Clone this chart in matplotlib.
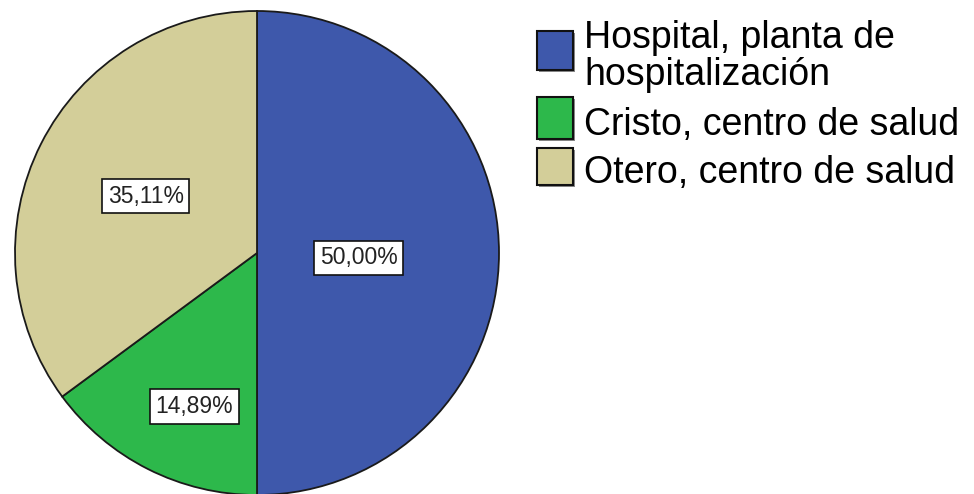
import matplotlib
matplotlib.use("Agg")
import matplotlib.pyplot as plt
from matplotlib.patches import Rectangle

# ---- data ----
categories = ["Hospital, planta de\nhospitalización",
              "Cristo, centro de salud",
              "Otero, centro de salud"]
percentages = [50.00, 14.89, 35.11]
colors = ["#3E58AB", "#2DB84B", "#D3CE99"]

# ---- layout constants ----
W, H = 974, 494
label_xy = [(0.42, -0.02), (-0.26, -0.635), (-0.46, 0.235)]  # label anchors in pie units

plt.rcParams['font.family'] = ['Liberation Sans', 'DejaVu Sans']
fig = plt.figure(figsize=(W / 100, H / 100), dpi=100)

cx, cy, r = 257, 253, 242  # pixel center (from top) and radius
ax = fig.add_axes([(cx - r) / W, (H - cy - r) / H, 2 * r / W, 2 * r / H])
wedges, _ = ax.pie(percentages, colors=colors, startangle=90, counterclock=False,
                   radius=1.0, wedgeprops=dict(edgecolor="#1a1a1a", linewidth=1.3))
ax.set_xlim(-1, 1)
ax.set_ylim(-1, 1)
ax.set_aspect('equal')
ax.axis('off')

for (x, y), v in zip(label_xy, percentages):
    ax.text(x, y, f"{v:.2f}%".replace('.', ','), ha='center', va='center',
            fontsize=16.5, color='#222222',
            bbox=dict(boxstyle='square,pad=0.25', facecolor='white',
                      edgecolor='#111111', linewidth=1.2))

# ---- legend (drawn manually to match layout) ----
def px(x, y):
    return x / W, 1 - y / H

sq_tops = [31, 97, 148]
sq_h = [39, 42, 37]
baselines = [[48, 85], [135], [183]]
for lab, col, top, hh, bls in zip(categories, colors, sq_tops, sq_h, baselines):
    x0, y0 = px(537, top + hh)
    # shadow
    fig.patches.append(Rectangle((x0 + 2 / W, y0 - 2 / H), 36 / W, hh / H,
                                 transform=fig.transFigure, facecolor='#8a8a8a',
                                 edgecolor='none'))
    fig.patches.append(Rectangle((x0, y0), 36 / W, hh / H, transform=fig.transFigure,
                                 facecolor=col, edgecolor='#111111', linewidth=1.5))
    for line, bl in zip(lab.split('\n'), bls):
        tx, ty = px(584, bl)
        fig.text(tx, ty, line, fontsize=27, va='baseline', ha='left', color='black')

fig.savefig("out.png", dpi=100)
